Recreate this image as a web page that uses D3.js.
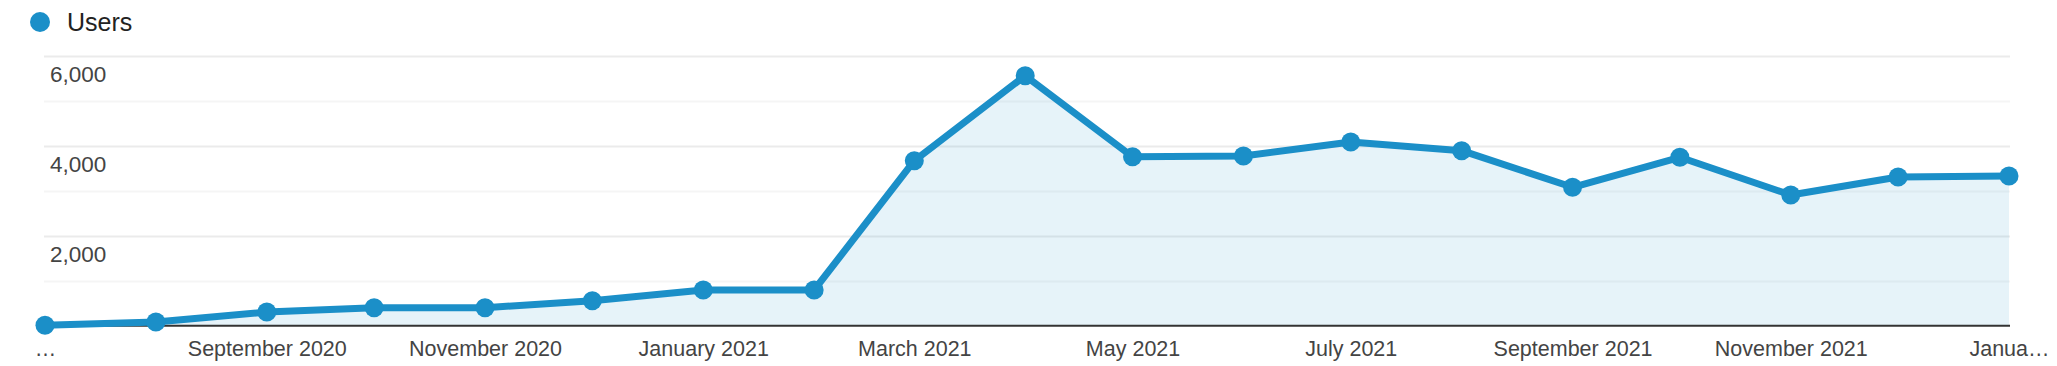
<!DOCTYPE html>
<html>
<head>
<meta charset="utf-8">
<script src="https://cdn.jsdelivr.net/npm/d3@7"></script>
<style>
  body { margin: 0; background: #fff; }
  svg text { font-family: "Liberation Sans", Arial, sans-serif; }
</style>
</head>
<body>
<div id="chart"></div>
<script>
// monthly users, Jul 2020 .. Jan 2022
var months = ["2020-07-01", "2020-08-01", "2020-09-01", "2020-10-01", "2020-11-01", "2020-12-01",
  "2021-01-01", "2021-02-01", "2021-03-01", "2021-04-01", "2021-05-01", "2021-06-01",
  "2021-07-01", "2021-08-01", "2021-09-01", "2021-10-01", "2021-11-01", "2021-12-01", "2022-01-01"];
var users = [8, 82, 304, 400, 400, 556, 793, 793, 3667, 5556, 3756, 3771, 4082, 3889, 3076, 3742, 2904, 3304, 3327];

var tickDates = ["2020-07-01", "2020-09-01", "2020-11-01", "2021-01-01", "2021-03-01", "2021-05-01",
  "2021-07-01", "2021-09-01", "2021-11-01", "2022-01-01"];
var tickLabels = ["…", "September 2020", "November 2020", "January 2021", "March 2021", "May 2021",
  "July 2021", "September 2021", "November 2021", "Janua…"];
var yLabelValues = [2000, 4000, 6000];

var width = 2057, height = 366;
var blue = "#1b8fc8";
var parse = d3.timeParse("%Y-%m-%d");

var data = months.map(function(m, i) { return {date: parse(m), value: users[i]}; });

var svg = d3.select("#chart").append("svg")
  .attr("width", width)
  .attr("height", height);

var x = d3.scaleTime()
  .domain([parse(months[0]), parse(months[months.length - 1])])
  .range([45, 2009]);

var y = d3.scaleLinear()
  .domain([0, 6000])
  .range([325.7, 55.7]);

// legend
svg.append("circle")
  .attr("cx", 40).attr("cy", 22).attr("r", 10)
  .attr("fill", blue);
svg.append("text")
  .attr("x", 67).attr("y", 31)
  .attr("font-size", 25)
  .attr("fill", "#222")
  .text("Users");

// gridlines
svg.append("g").selectAll("line")
  .data(y.ticks(6).filter(function(d) { return d > 0; }))
  .enter().append("line")
  .attr("x1", 44).attr("x2", 2010)
  .attr("y1", function(d) { return Math.round(y(d)) + 0.5; })
  .attr("y2", function(d) { return Math.round(y(d)) + 0.5; })
  .attr("stroke", function(d) { return d % 2000 === 0 ? "#ebebeb" : "#f5f5f5"; })
  .attr("stroke-width", 2);

// y labels
svg.append("g").selectAll("text")
  .data(yLabelValues)
  .enter().append("text")
  .attr("x", 50)
  .attr("y", function(d) { return y(d) + 26; })
  .attr("font-size", 22.5)
  .attr("fill", "#444")
  .text(function(d) { return d3.format(",")(d); });

// area
var area = d3.area()
  .x(function(d) { return x(d.date); })
  .y0(y(0))
  .y1(function(d) { return y(d.value); });

svg.append("path")
  .datum(data)
  .attr("d", area)
  .attr("fill", "rgba(5,141,199,0.1)");

// baseline
svg.append("line")
  .attr("x1", 44).attr("x2", 2010)
  .attr("y1", y(0)).attr("y2", y(0))
  .attr("stroke", "#333")
  .attr("stroke-width", 2);

// x axis labels
var xAxis = svg.append("g")
  .attr("transform", "translate(0," + y(0) + ")")
  .call(d3.axisBottom(x)
    .tickValues(tickDates.map(parse))
    .tickSize(0)
    .tickFormat(function(d, i) { return tickLabels[i]; }));
xAxis.select(".domain").remove();
xAxis.selectAll("text")
  .attr("dy", null)
  .attr("y", 30)
  .attr("font-size", 21.5)
  .attr("font-family", "Liberation Sans, Arial, sans-serif")
  .attr("fill", "#444");

// line
var line = d3.line()
  .x(function(d) { return x(d.date); })
  .y(function(d) { return y(d.value); });

svg.append("path")
  .datum(data)
  .attr("d", line)
  .attr("fill", "none")
  .attr("stroke", blue)
  .attr("stroke-width", 7)
  .attr("stroke-linejoin", "round");

svg.append("g").selectAll("circle")
  .data(data)
  .enter().append("circle")
  .attr("cx", function(d) { return x(d.date); })
  .attr("cy", function(d) { return y(d.value); })
  .attr("r", 9.5)
  .attr("fill", blue);
</script>
</body>
</html>
